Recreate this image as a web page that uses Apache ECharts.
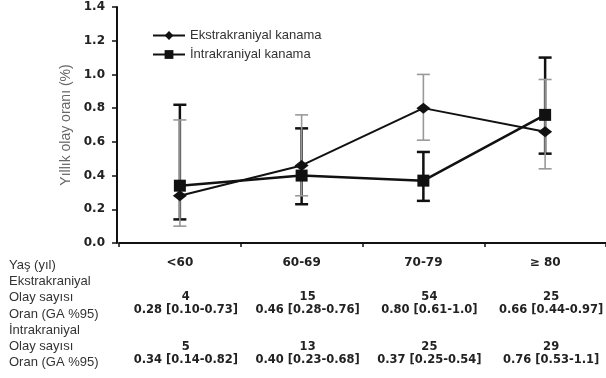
<!DOCTYPE html>
<html>
<head>
<meta charset="utf-8">
<script src="https://cdn.jsdelivr.net/npm/echarts@6/dist/echarts.min.js"></script>
<style>html,body{margin:0;padding:0;background:#fff}#c{width:606px;height:378px}</style>
</head>
<body>
<div id="c"></div>
<script>
const categories = ['<60', '60-69', '70-79', '≥ 80'];
const ekstraRate = [0.28, 0.46, 0.80, 0.66];
const ekstraLow = [0.10, 0.28, 0.61, 0.44];
const ekstraHigh = [0.73, 0.76, 1.0, 0.97];
const ekstraCount = [4, 15, 54, 25];
const intraRate = [0.34, 0.40, 0.37, 0.76];
const intraLow = [0.14, 0.23, 0.25, 0.53];
const intraHigh = [0.82, 0.68, 0.54, 1.1];
const intraCount = [5, 13, 25, 29];
const rowLabels = ['Yaş (yıl)', 'Ekstrakraniyal', 'Olay sayısı', 'Oran (GA %95)', 'İntrakraniyal', 'Olay sayısı', 'Oran (GA %95)'];
const seriesNames = ['Ekstrakraniyal kanama', 'İntrakraniyal kanama'];
const yAxisName = 'Yıllık olay oranı (%)';

const FONT = '"Liberation Sans", Arial, sans-serif';
const BFONT = '"DejaVu Sans", sans-serif';
const fmt = v => v >= 1 ? v.toFixed(1) : v.toFixed(2);

function errBar(color, width, half) {
  return function (params, api) {
    const x = api.value(0);
    const lo = api.coord([x, api.value(1)]);
    const hi = api.coord([x, api.value(2)]);
    const st = { stroke: color, lineWidth: width };
    return {
      type: 'group',
      children: [
        { type: 'line', shape: { x1: lo[0], y1: lo[1], x2: hi[0], y2: hi[1] }, style: st },
        { type: 'line', shape: { x1: lo[0] - half, y1: lo[1], x2: lo[0] + half, y2: lo[1] }, style: st },
        { type: 'line', shape: { x1: hi[0] - half, y1: hi[1], x2: hi[0] + half, y2: hi[1] }, style: st }
      ]
    };
  };
}

const chart = echarts.init(document.getElementById('c'), null, { renderer: 'canvas' });
chart.setOption({
  animation: false,
  backgroundColor: '#fff',
  grid: { left: 119, right: 0, top: 7, bottom: 135, containLabel: false },
  legend: {
    left: 147, top: 24, orient: 'vertical', itemWidth: 32, itemHeight: 11, itemGap: 6,
    data: seriesNames,
    textStyle: { fontFamily: FONT, fontSize: 13, color: '#333' }
  },
  xAxis: {
    type: 'category', data: categories, boundaryGap: true,
    axisLine: { lineStyle: { color: '#111', width: 2 } },
    axisTick: { show: true, inside: false, length: 4, lineStyle: { color: '#111', width: 1.5 } },
    axisLabel: { margin: 14, fontFamily: BFONT, fontWeight: 'bold', fontSize: 12, color: '#222' },
    splitLine: { show: false }
  },
  yAxis: {
    type: 'value', min: 0, max: 1.4, interval: 0.2, offset: 2,
    name: yAxisName, nameLocation: 'middle', nameGap: 38, nameRotate: 90,
    nameTextStyle: { fontFamily: FONT, fontSize: 14, color: '#666' },
    axisLine: { show: true, lineStyle: { color: '#111', width: 2 } },
    axisTick: { show: true, inside: false, length: 5, lineStyle: { color: '#111', width: 1.5 } },
    axisLabel: { margin: 12, fontFamily: BFONT, fontWeight: 'bold', fontSize: 12, color: '#222', formatter: v => v.toFixed(1) },
    splitLine: { show: false }
  },
  series: [
    {
      type: 'custom', name: 'err-int', z: 2,
      renderItem: errBar('#111', 2.5, 6.5),
      encode: { x: 0, y: [1, 2] },
      data: categories.map((c, i) => [i, intraLow[i], intraHigh[i]])
    },
    {
      type: 'custom', name: 'err-eks', z: 3,
      renderItem: errBar('#999', 1.6, 6.5),
      encode: { x: 0, y: [1, 2] },
      data: categories.map((c, i) => [i, ekstraLow[i], ekstraHigh[i]])
    },
    {
      type: 'line', name: seriesNames[0], z: 4,
      data: ekstraRate, symbol: 'diamond', symbolSize: [14, 11],
      lineStyle: { color: '#111', width: 2 }, itemStyle: { color: '#111' }
    },
    {
      type: 'line', name: seriesNames[1], z: 5,
      data: intraRate, symbol: 'rect', symbolSize: 12,
      lineStyle: { color: '#111', width: 2.5 }, itemStyle: { color: '#111' }
    }
  ]
});

// table below chart
const rowY = [265, 281, 297, 314, 330, 346, 362];
const graphics = rowLabels.map((t, r) => ({
  type: 'text', x: 9, y: rowY[r],
  style: { text: t, font: '13px ' + FONT, fill: '#333', textVerticalAlign: 'middle', textAlign: 'left' }
}));
const valFont = 'bold 11.5px ' + BFONT;
categories.forEach((c, i) => {
  const cx = chart.convertToPixel({ xAxisIndex: 0 }, i) + 6;
  const cells = [
    [ekstraCount[i] + '', 297],
    [fmt(ekstraRate[i]) + ' [' + fmt(ekstraLow[i]) + '-' + fmt(ekstraHigh[i]) + ']', 310],
    [intraCount[i] + '', 347],
    [fmt(intraRate[i]) + ' [' + fmt(intraLow[i]) + '-' + fmt(intraHigh[i]) + ']', 360]
  ];
  cells.forEach(([t, y]) => graphics.push({
    type: 'text', x: cx, y: y,
    style: { text: t, font: valFont, fill: '#222', textAlign: 'center', textVerticalAlign: 'middle' }
  }));
});
chart.setOption({ graphic: graphics });
</script>
</body>
</html>
